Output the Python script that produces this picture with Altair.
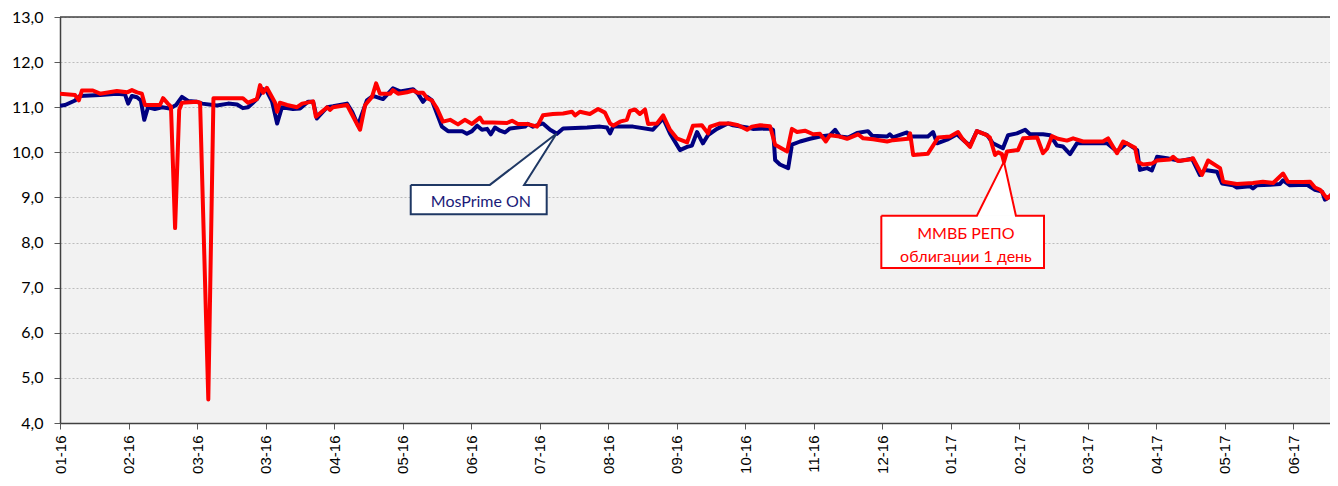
import altair as alt
import pandas as pd

# x axis: trading-day index; a label every 20 days
tick_labels = ["01-16", "02-16", "03-16", "03-16", "04-16", "05-16", "06-16", "07-16",
               "08-16", "09-16", "10-16", "11-16", "12-16", "01-17", "02-17", "03-17",
               "04-17", "05-17", "06-17"]
TICK_STEP = 20
X_MAX = 370.8

mos_day = [0.0, 1.5, 4.4, 5.8, 11.7, 16.6, 19.0, 19.9, 21.0, 22.5, 23.6, 24.6, 25.7, 27.7,
           29.8, 32.1, 33.9, 35.6, 37.4, 40.0, 41.5, 45.8, 49.1, 51.7, 53.4, 54.9, 57.5,
           59.3, 60.4, 61.9, 63.4, 64.8, 68.0, 70.1, 72.4, 73.9, 75.0, 78.0, 79.7, 83.8,
           85.3, 87.0, 89.6, 91.4, 94.3, 97.2, 99.3, 103.1, 104.5, 106.0, 107.2, 108.6,
           111.5, 113.3, 117.4, 118.8, 120.3, 121.8, 123.2, 124.7, 125.8, 127.0, 128.5,
           129.9, 131.4, 135.8, 136.6, 138.1, 141.0, 143.1, 145.1, 146.9, 153.9, 157.7,
           159.7, 160.6, 161.5, 167.3, 173.1, 176.1, 178.1, 181.0, 183.1, 184.5, 186.0,
           187.7, 189.2, 191.8, 195.0, 196.5, 200.6, 202.3, 207.3, 208.2, 208.8, 210.2,
           212.6, 213.7, 216.1, 219.0, 221.9, 224.8, 226.3, 227.7, 230.1, 232.7, 235.9,
           237.1, 241.5, 242.3, 243.2, 247.3, 248.2, 253.4, 254.9, 256.1, 259.0, 261.9,
           264.2, 265.7, 267.7, 270.7, 272.4, 275.3, 276.8, 279.4, 281.8, 283.2, 287.0,
           289.1, 291.1, 292.8, 294.9, 296.9, 300.7, 305.7, 308.6, 311.5, 314.5, 315.3,
           317.4, 318.8, 320.3, 323.2, 327.0, 330.5, 332.8, 334.3, 337.8, 339.3, 342.5,
           343.6, 347.4, 348.3, 349.5, 353.3, 356.2, 357.1, 359.1, 364.1, 366.4, 368.5,
           369.3, 370.8, 372.3, 373.1]
mos_val = [11.03, 11.05, 11.15, 11.25, 11.27, 11.30, 11.28, 11.08, 11.25, 11.22, 11.15, 10.72,
           11.00, 10.96, 11.00, 10.97, 11.05, 11.23, 11.14, 11.12, 11.08, 11.04, 11.08, 11.06,
           10.98, 11.00, 11.18, 11.40, 11.35, 11.13, 10.64, 11.00, 10.96, 10.97, 11.12, 11.12,
           10.75, 11.00, 11.02, 11.08, 10.90, 10.60, 11.15, 11.25, 11.18, 11.42, 11.35, 11.40,
           11.30, 11.12, 11.23, 11.15, 10.57, 10.47, 10.47, 10.41, 10.47, 10.59, 10.50, 10.52,
           10.40, 10.55, 10.48, 10.44, 10.53, 10.57, 10.63, 10.57, 10.64, 10.50, 10.41, 10.53,
           10.55, 10.57, 10.55, 10.42, 10.57, 10.57, 10.50, 10.75, 10.42, 10.05, 10.12, 10.15,
           10.45, 10.20, 10.38, 10.52, 10.64, 10.60, 10.55, 10.52, 10.53, 10.50, 9.83, 9.73,
           9.65, 10.17, 10.24, 10.30, 10.35, 10.38, 10.50, 10.35, 10.33, 10.43, 10.47, 10.37,
           10.35, 10.40, 10.33, 10.44, 10.35, 10.35, 10.45, 10.20, 10.28, 10.40, 10.24, 10.15,
           10.47, 10.38, 10.20, 10.09, 10.38, 10.42, 10.50, 10.40, 10.40, 10.38, 10.15, 10.13,
           9.96, 10.20, 10.20, 10.20, 10.02, 10.20, 10.05, 9.61, 9.65, 9.60, 9.90, 9.87, 9.81,
           9.86, 9.50, 9.61, 9.57, 9.31, 9.27, 9.22, 9.25, 9.20, 9.27, 9.28, 9.30, 9.38, 9.27,
           9.28, 9.17, 9.13, 8.95, 9.02, 9.19, 9.30]

repo_day = [0.0, 4.4, 5.5, 6.4, 9.6, 11.7, 16.6, 19.6, 21.0, 22.5, 23.9, 24.8, 29.2, 30.1,
            31.5, 32.4, 33.6, 34.8, 35.6, 40.0, 40.9, 43.3, 44.8, 53.4, 54.9, 57.5, 58.4,
            59.3, 60.4, 62.8, 63.4, 64.2, 66.3, 69.2, 70.7, 73.9, 74.7, 78.0, 78.8, 79.7,
            83.8, 87.6, 89.1, 91.1, 92.3, 93.4, 96.4, 97.2, 98.7, 101.3, 103.1, 104.5, 106.0,
            107.2, 108.6, 110.1, 111.8, 113.9, 116.2, 118.2, 120.3, 122.6, 123.5, 126.4,
            130.5, 132.0, 133.7, 136.4, 139.3, 141.0, 143.9, 146.9, 149.5, 150.4, 151.8,
            154.7, 157.1, 159.1, 160.6, 161.5, 163.5, 165.5, 166.4, 167.9, 169.3, 170.8,
            171.7, 174.3, 176.1, 178.1, 180.1, 183.1, 184.8, 187.4, 189.2, 189.8, 192.7,
            195.6, 198.0, 200.6, 202.0, 204.4, 207.3, 208.8, 212.3, 213.7, 215.2, 217.5,
            219.9, 221.9, 223.6, 224.8, 227.7, 229.8, 233.0, 234.5, 237.4, 241.5, 243.2,
            247.6, 248.2, 249.1, 253.4, 254.9, 256.4, 259.9, 262.2, 263.4, 265.7, 267.7,
            270.1, 271.5, 273.0, 273.9, 275.0, 275.6, 276.5, 279.7, 281.2, 285.3, 287.0,
            288.2, 289.6, 291.4, 294.0, 295.8, 298.7, 304.5, 306.0, 308.6, 310.4, 313.9,
            314.7, 316.2, 318.8, 320.3, 324.1, 325.0, 326.4, 329.9, 330.8, 333.4, 335.2,
            338.7, 339.6, 343.6, 348.3, 351.2, 354.2, 357.1, 358.5, 362.9, 365.0, 366.4,
            367.9, 368.8, 369.9, 371.7, 373.1]
repo_val = [11.30, 11.27, 11.15, 11.37, 11.37, 11.30, 11.36, 11.33, 11.38, 11.33, 11.30, 11.05,
            11.05, 11.20, 11.08, 11.01, 8.32, 10.94, 11.10, 11.12, 11.10, 4.52, 11.20, 11.20,
            11.10, 11.18, 11.49, 11.32, 11.43, 11.10, 10.90, 11.10, 11.05, 11.00, 11.08, 11.13,
            10.79, 11.00, 10.94, 11.00, 11.05, 10.50, 11.05, 11.23, 11.53, 11.30, 11.30, 11.38,
            11.30, 11.33, 11.37, 11.32, 11.32, 11.20, 11.15, 10.97, 10.68, 10.72, 10.62, 10.72,
            10.63, 10.77, 10.66, 10.66, 10.65, 10.70, 10.63, 10.63, 10.57, 10.82, 10.85, 10.86,
            10.90, 10.82, 10.90, 10.85, 10.96, 10.88, 10.64, 10.59, 10.68, 10.72, 10.92, 10.95,
            10.85, 10.95, 10.63, 10.64, 10.82, 10.50, 10.31, 10.22, 10.59, 10.60, 10.42, 10.57,
            10.64, 10.64, 10.60, 10.50, 10.57, 10.60, 10.58, 10.17, 10.02, 10.52, 10.45, 10.48,
            10.40, 10.41, 10.24, 10.38, 10.35, 10.30, 10.40, 10.31, 10.29, 10.24, 10.27, 10.30,
            10.42, 9.94, 9.97, 10.15, 10.33, 10.35, 10.45, 10.31, 10.12, 10.47, 10.40, 10.33,
            9.94, 10.00, 9.96, 9.79, 10.02, 10.05, 10.31, 10.33, 9.98, 10.08, 10.36, 10.30,
            10.26, 10.31, 10.24, 10.24, 10.31, 9.98, 10.24, 10.10, 9.79, 9.73, 9.75, 9.82,
            9.84, 9.90, 9.81, 9.84, 9.87, 9.50, 9.82, 9.65, 9.35, 9.30, 9.32, 9.35, 9.32, 9.53,
            9.35, 9.34, 9.35, 9.22, 9.17, 9.09, 8.98, 9.09, 9.30]

# callouts (data coordinates: day, rate)
mos_label = "MosPrime ON"
mos_box = dict(x1=102.4, x2=142.1, top=9.278, bottom=8.628, b1=125.5, b2=135.5,
               tipx=145.0, tipy=10.419, tx=122.9, ty=8.893)
repo_label = ["ММВБ РЕПО", "облигации 1 день"]
repo_box = dict(x1=239.8, x2=287.3, top=8.593, bottom=7.434, b1=267.7, b2=279.1,
                tipx=275.6, tipy=9.793, tx=264.5, ty=[8.179, 7.67])

NAVY = "#000080"
RED = "#FF0000"

mos = pd.DataFrame({"day": mos_day, "rate": mos_val})
repo = pd.DataFrame({"day": repo_day, "rate": repo_val})

xscale = alt.Scale(domain=[0, X_MAX], nice=False, zero=False)
yscale = alt.Scale(domain=[4, 13], nice=False, zero=False)

label_js = "[" + ",".join("'" + t + "'" for t in tick_labels) + "]"
xaxis = alt.Axis(values=[i * TICK_STEP for i in range(len(tick_labels))],
                 labelExpr=label_js + "[round(datum.value/" + str(TICK_STEP) + ")]",
                 labelAngle=-90, labelAlign="right", labelBaseline="middle",
                 labelFont="Liberation Sans", labelFontSize=15, labelColor="#000000",
                 labelPadding=6, tickSize=6, tickColor="#595959", tickWidth=1,
                 domainColor="#404040", domainWidth=1.5, grid=False, title=None,
                 labelOverlap=False, labelFlush=False)
yaxis = alt.Axis(values=list(range(4, 14)),
                 labelExpr="replace(format(datum.value, '.1f'), '.', ',')",
                 labelFont="Lato", labelFontSize=16, labelColor="#000000",
                 labelPadding=11, tickSize=6, tickColor="#595959", tickWidth=1,
                 domainColor="#404040", domainWidth=1.5, grid=True, gridColor="#bcbcbc",
                 gridDash=[2, 2], gridWidth=1, title=None, labelFlush=False)


def X(field):
    return alt.X(field, type="quantitative", scale=xscale, axis=xaxis)


def Y(field):
    return alt.Y(field, type="quantitative", scale=yscale, axis=yaxis)


top_rule = alt.Chart(pd.DataFrame({"y": [13]})).mark_rule(
    color="#404040", strokeWidth=1.5).encode(
    y=Y("y"), x=alt.value(0), x2=alt.value(1270))

mos_line = alt.Chart(mos).mark_line(color=NAVY, strokeWidth=4, strokeJoin="round",
                                    clip=True).encode(x=X("day"), y=Y("rate"))
repo_line = alt.Chart(repo).mark_line(color=RED, strokeWidth=4, strokeJoin="round",
                                      clip=True).encode(x=X("day"), y=Y("rate"))


def callout(box, color):
    rect_df = pd.DataFrame({"x1": [box["x1"]], "x2": [box["x2"]],
                            "top": [box["top"]], "bottom": [box["bottom"]]})
    rect = alt.Chart(rect_df).mark_rect(fill="white").encode(
        x=X("x1"), x2="x2", y=Y("top"), y2="bottom")
    wedge_df = pd.DataFrame({"wy": [box["top"], box["tipy"]],
                             "wa": [box["b1"], box["tipx"]],
                             "wb": [box["b2"], box["tipx"]]})
    wedge = alt.Chart(wedge_df).mark_area(orient="horizontal", fill="white",
                                          opacity=1).encode(
        y=Y("wy"), x=X("wa"), x2="wb")
    px = [box["x1"], box["b1"], box["tipx"], box["b2"], box["x2"], box["x2"], box["x1"], box["x1"]]
    py = [box["top"], box["top"], box["tipy"], box["top"], box["top"], box["bottom"],
          box["bottom"], box["top"]]
    outline_df = pd.DataFrame({"k": list(range(len(px))), "px": px, "py": py})
    outline = alt.Chart(outline_df).mark_line(color=color, strokeWidth=2,
                                              strokeJoin="miter").encode(
        x=X("px"), y=Y("py"), order=alt.Order("k:Q"))
    return rect + wedge + outline


mos_text = alt.Chart(pd.DataFrame({"tx": [mos_box["tx"]], "ty": [mos_box["ty"]],
                                   "t": [mos_label]})).mark_text(
    font="Lato", fontSize=16, color="#1a1a78", align="center", baseline="middle").encode(
    x=X("tx"), y=Y("ty"), text="t:N")
repo_text = alt.Chart(pd.DataFrame({"tx": [repo_box["tx"]] * 2, "ty": repo_box["ty"],
                                    "t": repo_label})).mark_text(
    font="Lato, Noto Sans", fontSize=16, color=RED, align="center", baseline="middle").encode(
    x=X("tx"), y=Y("ty"), text="t:N")

chart = alt.layer(
    mos_line, repo_line, top_rule,
    callout(mos_box, "#1f3864"), mos_text,
    callout(repo_box, RED), repo_text,
).properties(
    width=1270, height=406,
    autosize=alt.AutoSizeParams(type="none"),
    padding={"left": 52, "top": 9, "right": 0, "bottom": 51},
    background="white",
).configure_view(fill="#F2F2F2", stroke="transparent")

chart.save("out.html", embed_options={"renderer": "svg", "actions": False})
